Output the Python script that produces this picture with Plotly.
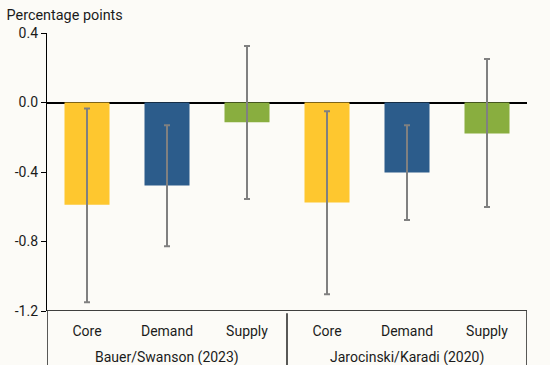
import plotly.graph_objects as go

groups = ["Bauer/Swanson (2023)", "Jarocinski/Karadi (2020)"]
categories = ["Core", "Demand", "Supply"]
values = [-0.588, -0.478, -0.114, -0.576, -0.403, -0.178]
upper = [-0.035, -0.131, 0.325, -0.050, -0.131, 0.250]
lower = [-1.150, -0.827, -0.555, -1.104, -0.676, -0.601]
colors = ["#FEC72F", "#2C5C8B", "#89AE3F"]
y_ticks = [0.4, 0.0, -0.4, -0.8, -1.2]
y_tick_labels = ["0.4", "0.0", "-0.4", "-0.8", "-1.2"]

n_cat = len(categories)
xs = list(range(len(values)))
tick_text = categories * len(groups)
bar_colors = colors * len(groups)
err_plus = [u - v for u, v in zip(upper, values)]
err_minus = [v - l for v, l in zip(values, lower)]

BG = "#FCFBF7"
FONT = "Roboto"
TXT = "#1b1b1b"

fig = go.Figure()
fig.add_trace(go.Bar(
    x=xs, y=values, width=0.5625,
    marker=dict(color=bar_colors, line=dict(width=0)),
    error_y=dict(type="data", symmetric=False, array=err_plus, arrayminus=err_minus,
                 color="#808080", thickness=2, width=3),
    hoverinfo="skip",
))

shapes = []
for k in range(len(groups) + 1):
    xv = k * n_cat - 0.5
    shapes.append(dict(type="line", xref="x", yref="paper",
                       x0=xv, x1=xv, y0=(0 if k in (0, len(groups)) else -0.008), y1=-0.3,
                       line=dict(color="black", width=1.3)))

annotations = []
for g, name in enumerate(groups):
    annotations.append(dict(text=name, xref="x", yref="paper",
                            x=g * n_cat + (n_cat - 1) / 2, y=0, yanchor="top",
                            yshift=-36, showarrow=False,
                            font=dict(family=FONT, size=14, color=TXT)))

fig.update_layout(
    width=550, height=365,
    paper_bgcolor=BG, plot_bgcolor=BG,
    margin=dict(l=47, r=23, t=33, b=54, pad=0),
    showlegend=False,
    font=dict(family=FONT, size=14, color=TXT),
    title=dict(text="Percentage points", x=0.012, xanchor="left", xref="container",
               y=1 - 15 / 365, yanchor="middle", yref="container",
               font=dict(family=FONT, size=14.4, color=TXT)),
    shapes=shapes,
    annotations=annotations,
    xaxis=dict(range=[-0.5, len(values) - 0.5], tickvals=xs, ticktext=tick_text,
               showgrid=False, zeroline=False, showline=False,
               ticks="outside", ticklen=7, tickcolor="rgba(0,0,0,0)",
               tickfont=dict(family=FONT, size=14, color=TXT), fixedrange=True),
    yaxis=dict(range=[y_ticks[-1], y_ticks[0]], tickvals=y_ticks, ticktext=y_tick_labels,
               showgrid=False, zeroline=True, zerolinecolor="black", zerolinewidth=1.5,
               showline=True, linecolor="black", linewidth=1.3, mirror=False,
               ticks="outside", ticklen=5, tickcolor="black", tickwidth=1,
               tickfont=dict(family=FONT, size=14, color=TXT), fixedrange=True),
)
# bottom axis line at the lowest y value
fig.add_shape(type="line", xref="paper", yref="y", x0=0, x1=1,
              y0=y_ticks[-1], y1=y_ticks[-1], line=dict(color="black", width=1.5))

fig.write_html("out.html", config={"displayModeBar": False},
               post_script="document.body.style.margin='0';document.body.style.background='%s';" % BG)
